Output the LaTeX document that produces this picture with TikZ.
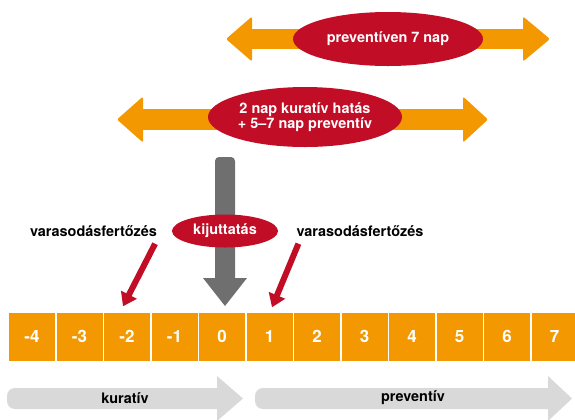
\documentclass[tikz,border=0pt]{standalone}
\usepackage{fontspec}
\setmainfont{TeX Gyre Heros}
\usetikzlibrary{arrows.meta,shapes.geometric}
\definecolor{orangeA}{HTML}{F39800}
\definecolor{redA}{HTML}{C10D26}
\definecolor{grayD}{HTML}{6F6F6F}
\definecolor{grayL}{HTML}{D9D9D9}
\tikzset{
  daybox/.style={fill=orangeA, text=white, minimum width=46bp, minimum height=48bp,
    inner sep=0pt, font=\fontsize{17}{19}\selectfont\bfseries},
  redoval/.style={ellipse, fill=redA, text=white, inner sep=0pt, align=center,
    font=\fontsize{14.5}{15.5}\selectfont\bfseries},
  boldtxt/.style={inner sep=0pt, font=\fontsize{14.5}{16}\selectfont\bfseries},
  infarrow/.style={draw=redA, line width=6bp, -{Triangle[width=17bp,length=13bp]}}
}

\begin{document}
\begin{tikzpicture}[x=1bp,y=-1bp]
\useasboundingbox (0,0) rectangle (575,419);
% preventive 7 days
\fill[orangeA] (250,29) rectangle (525,49);
\fill[orangeA, rounded corners=2bp] (226,39) -- (252,16.5) -- (252,61.5) -- cycle;
\fill[orangeA, rounded corners=2bp] (550,39) -- (523,16.5) -- (523,61.5) -- cycle;
\node[redoval, minimum width=190bp, minimum height=54bp] (prev7) at (388,39) {preventíven 7 nap};
% curative + preventive
\fill[orangeA] (141,109) rectangle (465,130);
\fill[orangeA, rounded corners=2bp] (117,119.5) -- (143,96.5) -- (143,142.5) -- cycle;
\fill[orangeA, rounded corners=2bp] (488,119.5) -- (463,96.5) -- (463,142.5) -- cycle;
\node[redoval, minimum width=194bp, minimum height=60bp] (cur2) at (305,117) {2 nap kuratív hatás\\+ 5–7 nap preventív};
% application
\fill[grayD, rounded corners=4bp] (215,157) rectangle (235,284);
\fill[grayD] (203,278) -- (247,278) -- (225,306) -- cycle;
\node[redoval, minimum width=106bp, minimum height=33bp] (kij) at (225,231) {kijuttatás};
\node[boldtxt] (infL) at (93.5,231) {varasodásfertőzés};
\node[boldtxt] (infR) at (360,231) {varasodásfertőzés};
% days
\foreach \day [count=\i] in {-4,...,7}
  \node[daybox] (day\i) at ({47.5*\i-15.5},336.5) {\day};
\draw[infarrow] ([xshift=-2bp,yshift=-7bp]infL.south east) -- ([xshift=-4bp,yshift=6bp]day3.north);
\draw[infarrow] ([xshift=2bp,yshift=-7bp]infR.south west) -- ([xshift=2.5bp,yshift=5bp]day6.north);
% bottom arrows
\fill[grayL, rounded corners=8bp] (7,388) rectangle (225,409);
\fill[grayL] (217,376) -- (243,398.5) -- (217,421) -- cycle;
\node[boldtxt] (kur) at (125,398) {kuratív};
\fill[grayL, rounded corners=8bp] (255,388) rectangle (556,409);
\fill[grayL] (548,376) -- (572,398.5) -- (548,421) -- cycle;
\node[boldtxt] (prv) at (413,398) {preventív};
\end{tikzpicture}
\end{document}
